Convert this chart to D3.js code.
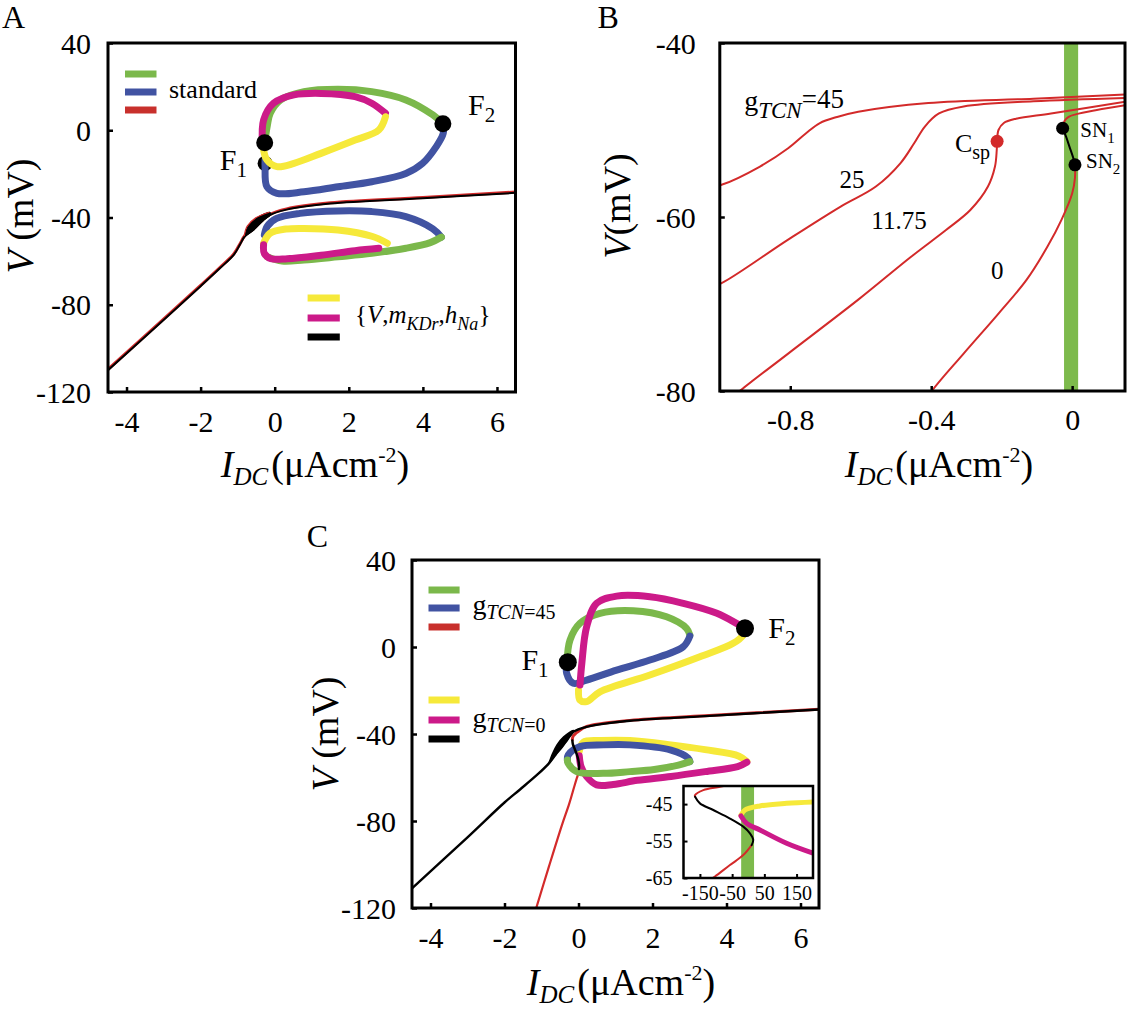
<!DOCTYPE html>
<html><head><meta charset="utf-8">
<script src="https://cdn.jsdelivr.net/npm/d3@7"></script>
<style>body{margin:0;background:#fff}svg{display:block}
svg text, svg tspan{font-family:"Liberation Serif","DejaVu Serif",serif !important;}</style>
</head><body><script>
// ================= DATA =================
// ---- Panel A ----
const aXTicks=[-4,-2,0,2,4,6];
const aYTicks=[40,0,-40,-80,-120];
const aSteady=[[-4.5,-110],[-3,-87],[-2,-71.5],[-1.48,-63.3],[-1.1,-57],[-0.94,-52.5],[-0.8,-48.5],[-0.58,-45.7],[-0.31,-41.2],[-0.13,-38.9],[0.32,-36.4],[1.5,-33.6],[4.0,-31.2],[6.5,-28.7]];
const aWedgeTop=[[-0.8,-48.5],[-0.72,-44.2],[-0.49,-40.4],[-0.13,-37.8]];
const aWedgeBot=[[-0.8,-48.5],[-0.58,-45.7],[-0.31,-41.2],[-0.13,-38.9]];
const aGreenUp=[[-0.27,-5.7],[-0.2,2],[-0.12,7.8],[0.16,13.9],[0.79,17.7],[1.71,18.8],[2.62,17.7],[3.54,13.9],[4.27,7],[4.54,3]];
const aBlueUp=[[4.54,3],[4.55,-1.4],[4.36,-7.5],[3.99,-15.2],[3.54,-19.8],[2.62,-23.6],[1.71,-25.9],[0.79,-28.2],[0.06,-28.9],[-0.21,-25.9],[-0.26,-16.7],[-0.26,-13.6]];
const aMagUp=[[-0.33,-6],[-0.30,4.7],[-0.03,12.4],[0.52,16.2],[1.25,16.9],[2.17,15.4],[2.62,12.4],[2.99,7.8]];
const aYelUp=[[2.99,6.2],[2.81,0.1],[2.17,-4.5],[1.25,-10.6],[0.52,-15.2],[0.06,-16.7],[-0.21,-13.6],[-0.30,-9.1]];
const aBlueLo=[[-0.28,-48],[-0.2,-44],[0.05,-40.4],[0.68,-38.1],[1.71,-37],[2.62,-37.3],[3.54,-39.6],[4.27,-45.2],[4.5,-49]];
const aGreenLo=[[4.5,-49],[4.2,-51.5],[3.54,-54.1],[2.62,-56.4],[1.71,-58],[0.79,-59.5],[0.2,-60],[-0.2,-58]];
const aYelLo=[[-0.3,-51.8],[-0.13,-47.3],[0.3,-45.3],[0.79,-45],[1.71,-45.7],[2.62,-48.6],[3.04,-51.8]];
const aMagLo=[[2.81,-54.1],[2.17,-55.2],[1.25,-57.3],[0.34,-58.9],[-0.1,-58.9],[-0.28,-56.5],[-0.3,-52.5]];
const aDotHidden=[-0.26,-15.2];
const aDots=[[-0.27,-5.7],[4.54,3]];

// ---- Panel B ----
const bXTicks=[-0.8,-0.4,0];
const bYTicks=[-40,-60,-80];
const bBand=[-0.023,0.017];
const bG45=[[-1.02,-56.5],[-0.995,-56.3],[-0.886,-54.2],[-0.806,-52.1],[-0.756,-50.4],[-0.716,-49.2],[-0.667,-48.5],[-0.607,-47.9],[-0.408,-46.9],[-0.11,-46.4],[0.16,-45.9]];
const bG25=[[-1.02,-67.9],[-0.995,-67.6],[-0.806,-62.6],[-0.657,-58.8],[-0.557,-56.5],[-0.487,-53.8],[-0.448,-51.5],[-0.418,-49.6],[-0.378,-48.1],[-0.308,-47.3],[-0.11,-46.7],[0.16,-46.3]];
const bG1175=[[-0.97,-81],[-0.94,-79.9],[-0.806,-75.7],[-0.607,-69.5],[-0.458,-64.6],[-0.358,-61.5],[-0.289,-59.2],[-0.239,-56.5],[-0.219,-54.2],[-0.214,-52.3],[-0.213,-51.3],[-0.209,-50],[-0.194,-49.2],[-0.159,-48.7],[-0.06,-48.1],[0.16,-46.7]];
const bG0Lo=[[-0.42,-81.5],[-0.398,-80],[-0.308,-75.7],[-0.209,-71.1],[-0.129,-67.2],[-0.07,-63.4],[-0.03,-60.3],[0,-57.3],[0.008,-55.5],[0.008,-54]];
const bG0Up=[[-0.027,-49.8],[-0.022,-49],[-0.01,-48.5],[0.01,-48.2],[0.07,-47.7],[0.16,-47.1]];
const bSNline=[[-0.027,-49.8],[-0.017,-50.8],[-0.007,-52],[0.003,-53.2],[0.008,-54]];
const bCsp=[-0.213,-51.3];
const bSN=[[-0.027,-49.8],[0.008,-54]];
const bCurveLabels=[{t:'25',I:-0.66,V:-56.7},{t:'11.75',I:-0.57,V:-61.4},{t:'0',I:-0.23,V:-67.1}];

// ---- Panel C ----
const cXTicks=[-4,-2,0,2,4,6];
const cYTicks=[40,0,-40,-80,-120];
const cSteady=[[-4.5,-111],[-3,-87.5],[-2,-71.5],[-1.58,-65.5],[-1.1,-58.5],[-0.8,-53.5],[-0.62,-49.5],[-0.45,-46],[-0.3,-42.5],[-0.14,-39],[0.22,-36.7],[1.39,-33.9],[3.42,-31.8],[6.5,-28.7]];
const cWedgeTop=[[-0.8,-53.5],[-0.7,-49],[-0.58,-45],[-0.4,-41.3],[-0.14,-38.4]];
const cWedgeBot=[[-0.8,-53.5],[-0.62,-49.5],[-0.45,-46],[-0.3,-42.5],[-0.14,-39]];
const cRedLo=[[-1.16,-121],[-0.8,-101],[-0.45,-82],[-0.25,-72],[-0.12,-64.5],[-0.05,-60.5],[-0.016,-58.8],[0.0105,-56.1]];
const cRedUp=[[-0.165,-43],[-0.165,-42.6],[-0.14,-41.2],[-0.088,-40.3],[-0.03,-39.5],[0.22,-36.9],[1.39,-34.1],[3.42,-32.0],[6.6,-28.9]];
const cGreenUp=[[-0.31,-7],[-0.23,3.2],[0.04,10.9],[0.58,15.5],[1.48,16.7],[2.38,13.9],[2.92,8.6],[3.01,5.5]];
const cBlueUp=[[3.01,5.0],[2.83,0.1],[1.93,-6],[1.03,-10.6],[0.22,-15.2],[-0.14,-16.7],[-0.32,-12.1],[-0.31,-7]];
const cMagUp=[[0.04,-17.5],[0.09,-7.5],[0.22,9.3],[0.49,20.1],[1.03,23.4],[1.93,23.1],[2.83,20.1],[3.74,15.5],[4.5,8.6]];
const cYelUp=[[4.5,8.6],[4.45,5.5],[4.18,1.7],[3.28,-4.5],[1.93,-12.9],[0.58,-20.6],[0.22,-25.1],[0.04,-24.4],[0.0,-19.8]];
const cBlueLo=[[3.01,-52.7],[2.96,-51],[2.5,-47.4],[1.39,-45],[0.67,-45],[0.04,-45.8],[-0.28,-49.7],[-0.3,-52]];
const cGreenLo=[[-0.3,-52],[-0.28,-53.5],[-0.05,-57.3],[0.67,-58.1],[1.39,-57.3],[2.05,-56.3],[2.7,-54.3],[3.01,-52.7]];
const cYelLo=[[0.02,-48],[0.13,-43.8],[0.6,-43],[1.39,-43],[2.5,-45],[3.42,-47.2],[4.34,-50.2],[4.55,-52.7]];
const cMagLo=[[4.55,-53],[4.3,-55],[3.42,-57.3],[2.5,-59.5],[1.59,-61.3],[0.94,-63.2],[0.49,-63.4],[0.22,-59.6],[0.07,-55],[0.02,-50]];
const cDots=[[-0.29,-7],[4.5,8.6]];

// ---- Panel C inset (I in 1e-3 uAcm-2) ----
const iXTicks=[-150,-50,50,150];
const iYTicks=[-45,-55,-65];
const iBand=[-22,18];
const iRedTop=[[-40,-39.5],[-87.8,-40.3],[-139.6,-41.2],[-165.4,-42.6],[-165,-43]];
const iBlack=[[-165,-43],[-150,-44.8],[-108.6,-46.6],[-56.8,-48.9],[-15.5,-51.1],[5.3,-52.9],[15.5,-54.7],[10.5,-56.1]];
const iRedBot=[[10.5,-56.1],[-15.5,-58.8],[-56.8,-61.5],[-103.3,-64.6],[-120,-65.6]];
const iYel=[[-22.6,-48],[-10.2,-46.6],[36.3,-45.5],[119,-44.8],[205,-44.4]];
const iMag=[[-22.6,-48.2],[-5,-50.2],[36.3,-52],[119,-55.6],[205,-58.4]];

// ================= DRAW =================
const COL={green:'#7bb84b',blue:'#4153a2',red:'#d32a2a',redL:'#c8302c',mag:'#cc1a89',yel:'#f6e93a',black:'#000'};
const svg=d3.select('body').append('svg').attr('width',1128).attr('height',1010);

let clipN=0;
function makePanel(o){
  const x=d3.scaleLinear().domain(o.xd).range([o.l,o.r]);
  const y=d3.scaleLinear().domain(o.yd).range([o.b,o.t]);
  const id='clip'+(clipN++);
  svg.append('clipPath').attr('id',id).append('rect').attr('x',o.l).attr('y',o.t).attr('width',o.r-o.l).attr('height',o.b-o.t);
  if(o.bg) svg.append('rect').attr('x',o.l).attr('y',o.t).attr('width',o.r-o.l).attr('height',o.b-o.t).attr('fill','#fff');
  const g=svg.append('g').attr('clip-path',`url(#${id})`);
  const ax=svg.append('g');
  return {x,y,g,ax,o};
}
function drawAxes(p){
  const o=p.o;
  const bx=p.ax.append('g').attr('transform',`translate(0,${o.b})`)
    .call(d3.axisBottom(p.x).tickValues(o.xt).tickFormat(d=>String(d)).tickSize(-o.tl).tickPadding(0));
  bx.select('.domain').remove();
  bx.attr('font-family',null).attr('font-size',o.fs);
  bx.selectAll('line').attr('stroke','#000').attr('stroke-width',o.tw);
  bx.selectAll('text').attr('y',o.xly).attr('dy',null).attr('fill','#000');
  const ly=p.ax.append('g').attr('transform',`translate(${o.l},0)`)
    .call(d3.axisLeft(p.y).tickValues(o.yt).tickFormat(d=>String(d)).tickSize(-o.tl).tickPadding(0));
  ly.select('.domain').remove();
  ly.attr('font-family',null).attr('font-size',o.fs);
  ly.selectAll('line').attr('stroke','#000').attr('stroke-width',o.tw);
  ly.selectAll('text').attr('x',-o.ylx).attr('dy','0.34em').attr('fill','#000');
  p.ax.append('rect').attr('x',o.l).attr('y',o.t).attr('width',o.r-o.l).attr('height',o.b-o.t)
    .attr('fill','none').attr('stroke','#000').attr('stroke-width',o.fw);
}
const smooth=d3.curveCatmullRom.alpha(0.5);
function line(p){return d3.line().x(d=>p.x(d[0])).y(d=>p.y(d[1])).curve(smooth);}
function path(p,parent,data,color,w,opt={}){
  return parent.append('path').datum(data).attr('d',line(p)).attr('fill','none').attr('stroke',color)
    .attr('stroke-width',w).attr('stroke-linecap',opt.cap||'round').attr('stroke-linejoin','round')
    .attr('transform',opt.tr||null);
}
function wedge(p,top,bot){
  const poly=top.concat(bot.slice().reverse());
  p.g.append('path').datum(poly).attr('d',d3.line().x(d=>p.x(d[0])).y(d=>p.y(d[1])).curve(d3.curveCatmullRomClosed.alpha(0.5)))
    .attr('fill','#000').attr('stroke','#000').attr('stroke-width',1.5);
}
function rich(x,y,size,parts,anchor='start',rot=0){
  const t=svg.append('text').attr('transform',`translate(${x},${y}) rotate(${rot})`).attr('text-anchor',anchor)
    .attr('font-size',size).attr('fill','#000');
  parts.forEach(q=>{const s=t.append('tspan').text(q.t);
    if(q.i) s.attr('font-style','italic'); if(q.s) s.attr('font-size',q.s);
    if(q.dy) s.attr('dy',q.dy); if(q.dx) s.attr('dx',q.dx);});
  return t;
}
function xLabel(cx,by){
  rich(cx,by,38,[{t:'I',i:1},{t:'DC',i:1,s:25,dy:8},{t:'(μAcm',dy:-8,dx:3},{t:'-2',s:22,dy:-15},{t:')',dy:15}],'middle');
}
function legend(keys,x1,x2,ys){
  svg.append('g').selectAll('line').data(keys).join('line')
    .attr('x1',x1).attr('x2',x2).attr('y1',(d,i)=>ys[i]).attr('y2',(d,i)=>ys[i])
    .attr('stroke',d=>COL[d]).attr('stroke-width',7);
}

// ---------- Panel A ----------
const A=makePanel({l:108,r:515.5,t:43,b:392,xd:[-4.5,6.5],yd:[-120,40],xt:aXTicks,yt:aYTicks,tl:5,tw:2.5,fw:3,fs:30,xly:40,ylx:17});
path(A,A.g,aSteady,COL.red,3,{tr:'translate(0,-0.8)'});
path(A,A.g,aSteady,COL.black,2);
wedge(A,aWedgeTop,aWedgeBot);
path(A,A.g,aWedgeTop,COL.red,1.2,{tr:'translate(-0.8,-0.5)'});
A.g.append('circle').attr('cx',A.x(aDotHidden[0])).attr('cy',A.y(aDotHidden[1])).attr('r',7.5).attr('fill','#000');
[[aGreenUp,'green'],[aBlueUp,'blue'],[aMagUp,'mag'],[aYelUp,'yel'],
 [aBlueLo,'blue'],[aGreenLo,'green'],[aYelLo,'yel'],[aMagLo,'mag']].forEach(([d,c])=>path(A,A.g,d,COL[c],7));
A.g.selectAll('circle.f').data(aDots).join('circle').attr('class','f').attr('cx',d=>A.x(d[0])).attr('cy',d=>A.y(d[1]))
  .attr('r',8.5).attr('fill','#000');
drawAxes(A);
legend(['green','blue','redL'],125,156.5,[74,92,110]);
rich(169,98,26,[{t:'standard'}]);
legend(['yel','mag','black'],307.6,339.8,[298,318,337]);
rich(355,323,25,[{t:'{'},{t:'V',i:1},{t:','},{t:'m',i:1},{t:'KDr',i:1,s:18,dy:7},{t:',',dy:-7},{t:'h',i:1},{t:'Na',i:1,s:18,dy:7},{t:'}',dy:-7}]);
rich(219.7,170,30,[{t:'F'},{t:'1',s:21,dy:7}]);
rich(468,115,30,[{t:'F'},{t:'2',s:21,dy:7}]);
rich(2,28,32,[{t:'A'}]);
rich(33,216,38,[{t:'V',i:1},{t:' (mV)'}],'middle',-90);
xLabel(315,477);

// ---------- Panel B ----------
const B=makePanel({l:719.8,r:1125,t:43,b:391,xd:[-1.0,0.15],yd:[-80,-40],xt:bXTicks,yt:bYTicks,tl:5,tw:2.5,fw:3,fs:30,xly:39,ylx:24});
B.g.append('rect').attr('x',B.x(bBand[0])).attr('width',B.x(bBand[1])-B.x(bBand[0]))
  .attr('y',43).attr('height',348).attr('fill','#7dba4c');
[bG45,bG25,bG1175,bG0Lo,bG0Up].forEach(d=>path(B,B.g,d,COL.red,2));
path(B,B.g,bSNline,'#000',2);
B.g.append('circle').attr('cx',B.x(bCsp[0])).attr('cy',B.y(bCsp[1])).attr('r',6.5).attr('fill',COL.red);
B.g.selectAll('circle.sn').data(bSN).join('circle').attr('class','sn').attr('cx',d=>B.x(d[0])).attr('cy',d=>B.y(d[1])).attr('r',6.5).attr('fill','#000');
drawAxes(B);
rich(744.2,110,28,[{t:'g'},{t:'TCN',i:1,s:23,dy:8},{t:'=45',s:27,dy:-10}]);
bCurveLabels.forEach(l=>rich(B.x(l.I),B.y(l.V),25,[{t:l.t}]));
rich(954.9,152,26,[{t:'C'},{t:'sp',s:20,dy:7}]);
rich(1080.3,137,21,[{t:'SN'},{t:'1',s:15,dy:6}]);
rich(1086,168,21,[{t:'SN'},{t:'2',s:15,dy:6}]);
rich(597.5,28,32,[{t:'B'}]);
rich(630,206,38,[{t:'V',i:1},{t:'(mV)'}],'middle',-90);
xLabel(939,477);

// ---------- Panel C ----------
const Cp=makePanel({l:412,r:819,t:560,b:908,xd:[-4.5,6.5],yd:[-120,40],xt:cXTicks,yt:cYTicks,tl:5,tw:2.5,fw:3,fs:30,xly:40,ylx:16});
path(Cp,Cp.g,cRedLo,COL.red,2.2);
path(Cp,Cp.g,cRedUp,COL.red,3,{tr:'translate(0,-0.8)'});
path(Cp,Cp.g,cSteady,COL.black,2.4);
wedge(Cp,cWedgeTop,cWedgeBot);
[[cGreenUp,'green'],[cBlueUp,'blue'],[cYelUp,'yel'],[cMagUp,'mag'],
 [cYelLo,'yel'],[cMagLo,'mag'],[cBlueLo,'blue'],[cGreenLo,'green']].forEach(([d,c])=>path(Cp,Cp.g,d,COL[c],7));
path(Cp,Cp.g,iBlack.map(d=>[d[0]/1000,d[1]]),COL.black,2.5);
Cp.g.selectAll('circle').data(cDots).join('circle').attr('cx',d=>Cp.x(d[0])).attr('cy',d=>Cp.y(d[1])).attr('r',9).attr('fill','#000');
drawAxes(Cp);
legend(['green','blue','redL'],428.5,459.6,[590,608,627]);
legend(['yel','mag','black'],428.5,459.6,[700,720,739]);
rich(472.4,614,28,[{t:'g'},{t:'TCN',i:1,s:20,dy:5},{t:'=45',s:20}]);
rich(472.4,727,28,[{t:'g'},{t:'TCN',i:1,s:20,dy:5},{t:'=0',s:20}]);
rich(521.4,670,30,[{t:'F'},{t:'1',s:21,dy:7}]);
rich(768.2,638,30,[{t:'F'},{t:'2',s:21,dy:7}]);
rich(306.8,547,32,[{t:'C'}]);
rich(338,734,38,[{t:'V',i:1},{t:' (mV)'}],'middle',-90);
xLabel(621,995);

// ---------- Inset ----------
const In=makePanel({l:683.5,r:813,t:786,b:878,xd:[-201,201],yd:[-65,-40.1],xt:iXTicks,yt:iYTicks,tl:4,tw:2,fw:2.5,fs:20,xly:22,ylx:11,bg:true});
In.g.append('rect').attr('x',In.x(iBand[0])).attr('width',In.x(iBand[1])-In.x(iBand[0]))
  .attr('y',786).attr('height',92).attr('fill','#7dba4c');
path(In,In.g,iRedTop,COL.red,2);
path(In,In.g,iRedBot,COL.red,2);
path(In,In.g,iBlack,COL.black,2);
path(In,In.g,iYel,COL.yel,5);
path(In,In.g,iMag,COL.mag,5);
drawAxes(In);
</script></body></html>
